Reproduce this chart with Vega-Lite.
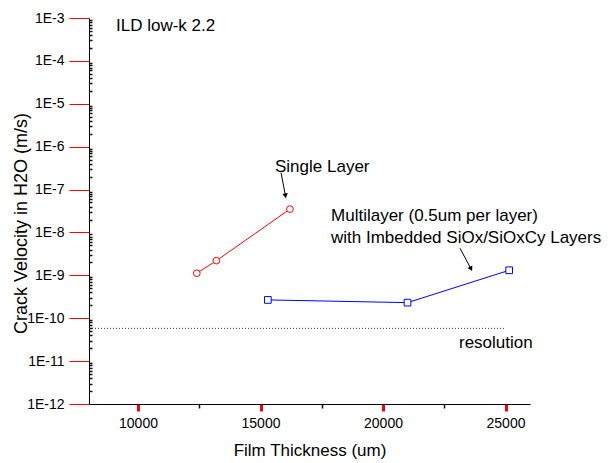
{
  "$schema": "https://vega.github.io/schema/vega-lite/v6.json",
  "width": 441,
  "height": 386,
  "autosize": {"type": "none"},
  "padding": {"left": 89, "top": 18, "right": 83, "bottom": 59},
  "background": "white",
  "config": {
    "view": {"stroke": null},
    "font": "Liberation Sans",
    "axis": {
      "labelFont": "Liberation Sans",
      "titleFont": "Liberation Sans",
      "labelColor": "black",
      "titleColor": "black",
      "domainColor": "black",
      "titleFontWeight": "normal",
      "grid": false
    }
  },
  "resolve": {"axis": {"x": "independent", "y": "independent"}},
  "datasets": {
    "series": [
      {"series": "Single Layer", "thickness": 12400, "velocity": 1.12e-9},
      {"series": "Single Layer", "thickness": 13200, "velocity": 2.2e-9},
      {"series": "Single Layer", "thickness": 16200, "velocity": 3.5e-8},
      {"series": "Multilayer", "thickness": 15300, "velocity": 2.67e-10},
      {"series": "Multilayer", "thickness": 21000, "velocity": 2.31e-10},
      {"series": "Multilayer", "thickness": 25150, "velocity": 1.31e-9}
    ],
    "resolution": [
      {"x": 8000, "x2": 25000, "y": 5.8e-11}
    ],
    "notes": [
      {"label": "ILD low-k 2.2", "x": 9102, "y": 4.92e-4},
      {"label": "Single Layer", "x": 15592, "y": 2.59e-7},
      {"label": "Multilayer (0.5um per layer)", "x": 17878, "y": 1.86e-8},
      {"label": "with Imbedded SiOx/SiOxCy Layers", "x": 17878, "y": 5.8e-9},
      {"label": "resolution", "x": 23102, "y": 1.99e-11}
    ],
    "arrow1": [
      {"x": 15837, "y": 2.48e-7, "x2": 16020, "y2": 7.13e-8}
    ],
    "arrow2": [
      {"x": 23143, "y": 4.29e-9, "x2": 23592, "y2": 1.41e-9}
    ]
  },
  "layer": [
    {
      "data": {"name": "series"},
      "mark": {"type": "line", "strokeWidth": 1},
      "encoding": {
        "x": {
          "field": "thickness", "type": "quantitative",
          "scale": {"domain": [8000, 26000], "nice": false, "zero": false},
          "axis": {
            "title": "Film Thickness (um)",
            "titleFontSize": 17,
            "titleY": 51,
            "titleBaseline": "alphabetic",
            "values": [10000, 15000, 20000, 25000],
            "format": "d",
            "labelFontSize": 14,
            "labelPadding": 5,
            "ticks": true,
            "tickColor": "red",
            "tickWidth": 3,
            "tickSize": 7
          }
        },
        "y": {
          "field": "velocity", "type": "quantitative",
          "scale": {"type": "log", "domain": [1e-12, 1e-3], "nice": false},
          "axis": {
            "title": "Crack Velocity in H2O (m/s)",
            "titleFontSize": 18,
            "titleX": -67.5,
            "titleY": 205,
            "titleAngle": 270,
            "titleAlign": "center",
            "titleBaseline": "middle",
            "values": [1e-12, 1e-11, 1e-10, 1e-9, 1e-8, 1e-7, 1e-6, 1e-5, 1e-4, 1e-3],
            "labelExpr": "'1E-' + round(-log(datum.value)/LN10)",
            "labelFontSize": 14,
            "labelPadding": 5,
            "ticks": true,
            "tickColor": "red",
            "tickWidth": 1,
            "tickSize": 20
          }
        },
        "color": {"field": "series", "type": "nominal", "scale": {"domain": ["Single Layer", "Multilayer"], "range": ["#ff0000", "#0000ff"]}, "legend": null}
      }
    },
    {
      "data": {"name": "series"},
      "mark": {"type": "point", "filled": false, "fill": "white", "fillOpacity": 1, "strokeWidth": 1, "size": 45, "opacity": 1},
      "encoding": {
        "x": {
          "field": "thickness", "type": "quantitative",
          "axis": {
            "orient": "bottom",
            "title": null,
            "labels": false,
            "domain": false,
            "ticks": true,
            "tickColor": "#111111",
            "tickWidth": 1.5,
            "values": [12500, 17500, 22500],
            "tickSize": 4
          }
        },
        "y": {
          "field": "velocity", "type": "quantitative",
          "axis": {
            "orient": "left",
            "title": null,
            "labels": false,
            "domain": false,
            "ticks": true,
            "tickColor": "#111111",
            "tickWidth": 1.5,
            "offset": -3,
            "tickSize": 3,
            "values": [2e-12, 3e-12, 4e-12, 5e-12, 6e-12, 7e-12, 8e-12, 9e-12,
                       2e-11, 3e-11, 4e-11, 5e-11, 6e-11, 7e-11, 8e-11, 9e-11,
                       2e-10, 3e-10, 4e-10, 5e-10, 6e-10, 7e-10, 8e-10, 9e-10,
                       2e-9, 3e-9, 4e-9, 5e-9, 6e-9, 7e-9, 8e-9, 9e-9,
                       2e-8, 3e-8, 4e-8, 5e-8, 6e-8, 7e-8, 8e-8, 9e-8,
                       2e-7, 3e-7, 4e-7, 5e-7, 6e-7, 7e-7, 8e-7, 9e-7,
                       2e-6, 3e-6, 4e-6, 5e-6, 6e-6, 7e-6, 8e-6, 9e-6,
                       2e-5, 3e-5, 4e-5, 5e-5, 6e-5, 7e-5, 8e-5, 9e-5,
                       2e-4, 3e-4, 4e-4, 5e-4, 6e-4, 7e-4, 8e-4, 9e-4]
          }
        },
        "color": {"field": "series", "type": "nominal", "scale": {"domain": ["Single Layer", "Multilayer"], "range": ["#ff0000", "#0000ff"]}, "legend": null},
        "shape": {"field": "series", "type": "nominal", "scale": {"domain": ["Single Layer", "Multilayer"], "range": ["circle", "square"]}, "legend": null}
      }
    },
    {
      "data": {"name": "resolution"},
      "mark": {"type": "rule", "color": "#333333", "strokeWidth": 1, "strokeDash": [1, 2]},
      "encoding": {
        "x": {"field": "x", "type": "quantitative", "axis": null},
        "x2": {"field": "x2"},
        "y": {"field": "y", "type": "quantitative", "axis": null}
      }
    },
    {
      "data": {"name": "notes"},
      "mark": {"type": "text", "align": "left", "baseline": "alphabetic", "fontSize": 17, "font": "Liberation Sans", "color": "black"},
      "encoding": {
        "x": {"field": "x", "type": "quantitative", "axis": null},
        "y": {"field": "y", "type": "quantitative", "axis": null},
        "text": {"field": "label"}
      }
    },
    {
      "data": {"name": "arrow1"},
      "mark": {"type": "rule", "color": "black", "strokeWidth": 1},
      "encoding": {
        "x": {"field": "x", "type": "quantitative", "axis": null},
        "y": {"field": "y", "type": "quantitative", "axis": null},
        "x2": {"field": "x2"},
        "y2": {"field": "y2"}
      }
    },
    {
      "data": {"name": "arrow1"},
      "mark": {"type": "point", "shape": "triangle-down", "filled": true, "color": "black", "size": 30, "angle": -10, "opacity": 1},
      "encoding": {
        "x": {"field": "x2", "type": "quantitative", "axis": null},
        "y": {"field": "y2", "type": "quantitative", "axis": null}
      }
    },
    {
      "data": {"name": "arrow2"},
      "mark": {"type": "rule", "color": "black", "strokeWidth": 1},
      "encoding": {
        "x": {"field": "x", "type": "quantitative", "axis": null},
        "y": {"field": "y", "type": "quantitative", "axis": null},
        "x2": {"field": "x2"},
        "y2": {"field": "y2"}
      }
    },
    {
      "data": {"name": "arrow2"},
      "mark": {"type": "point", "shape": "triangle-down", "filled": true, "color": "black", "size": 30, "angle": -27.5, "opacity": 1},
      "encoding": {
        "x": {"field": "x2", "type": "quantitative", "axis": null},
        "y": {"field": "y2", "type": "quantitative", "axis": null}
      }
    }
  ]
}
